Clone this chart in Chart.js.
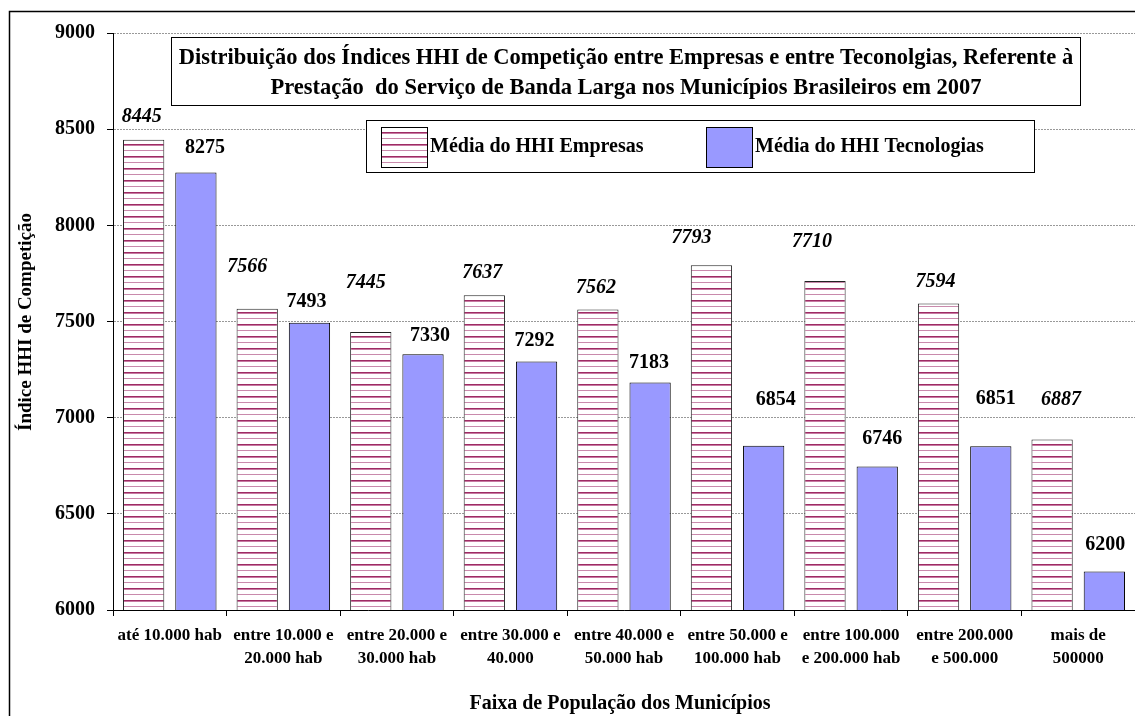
<!DOCTYPE html>
<html><head><meta charset="utf-8">
<script src="https://cdn.jsdelivr.net/npm/chart.js@4/dist/chart.umd.min.js"></script>
<style>html,body{margin:0;padding:0;background:#fff;overflow:hidden}#wrap{width:1135px;height:716px;position:relative}</style>
</head><body><div id="wrap"><canvas id="c" width="1135" height="716"></canvas></div>
<script>
const categories = [["até 10.000 hab"],["entre 10.000 e","20.000 hab"],["entre 20.000 e","30.000 hab"],["entre 30.000 e","40.000"],["entre 40.000 e","50.000 hab"],["entre 50.000 e","100.000 hab"],["entre 100.000","e 200.000 hab"],["entre 200.000","e 500.000"],["mais de","500000"]];
const empresas = [8445,7566,7445,7637,7562,7793,7710,7594,6887];
const tecnologias = [8275,7493,7330,7292,7183,6854,6746,6851,6200];
const yTickValues = [6000,6500,7000,7500,8000,8500,9000];
const seriesNames = ["Média do HHI Empresas","Média do HHI Tecnologias"];
const titleLines = ["Distribuição dos Índices HHI de Competição entre Empresas e entre Teconolgias, Referente à","Prestação  do Serviço de Banda Larga nos Municípios Brasileiros em 2007"];
const xTitle = "Faixa de População dos Municípios";
const yTitle = "Índice HHI de Competição";
// label placement nudges (pixels, relative to bar top / bar centre)
const empLabelLift = [23,42,49,22,22,27,39,22,40];
const empLabelNudge = [-2,-10,-5,-2,-2,-20,-13,-3,9];
const tecLabelLift = [25,21,18,21,20,46,28,47,27];
const tecLabelNudge = [9,-3,7,-2,-1,12,5,5,1];

const SERIF = "'Liberation Serif','Times New Roman',serif";

function makeHatch(){
  const c=document.createElement('canvas'); c.width=8; c.height=12;
  const x=c.getContext('2d');
  x.fillStyle='#fff'; x.fillRect(0,0,8,12);
  x.fillStyle='#9e2c64'; x.fillRect(0,0,8,1);
  x.fillStyle='#c77aa2'; x.fillRect(0,1,8,1);
  x.fillStyle='#c98aac'; x.fillRect(0,6,8,1);
  return x.createPattern(c,'repeat');
}
const hatch = makeHatch();

const decor = {
  id:'decor',
  afterDatasetsDraw(chart){
    const ctx=chart.ctx;
    const m0=chart.getDatasetMeta(0), m1=chart.getDatasetMeta(1);
    ctx.save();
    ctx.fillStyle='#000'; ctx.textAlign='center'; ctx.textBaseline='middle';
    ctx.font="italic bold 20px "+SERIF;
    m0.data.forEach((b,i)=>{ ctx.fillText(String(empresas[i]), b.x+empLabelNudge[i], b.y-empLabelLift[i]); });
    ctx.font="bold 20px "+SERIF;
    m1.data.forEach((b,i)=>{ ctx.fillText(String(tecnologias[i]), b.x+tecLabelNudge[i], b.y-tecLabelLift[i]); });
    ctx.restore();
  },
  afterDraw(chart){
    const ctx=chart.ctx;
    ctx.save();
    ctx.strokeStyle='#000'; ctx.lineWidth=1.5;
    ctx.strokeRect(9.5,11.5,1300,900);
    ctx.fillStyle='#fff'; ctx.fillRect(171,37,909,68);
    ctx.lineWidth=1; ctx.strokeStyle='#000'; ctx.strokeRect(171.5,37.5,909,68);
    ctx.fillStyle='#000'; ctx.textAlign='center'; ctx.textBaseline='middle';
    ctx.font="bold 22.5px "+SERIF;
    ctx.fillText(titleLines[0],626,58);
    ctx.fillText(titleLines[1],626,88);
    ctx.fillStyle='#fff'; ctx.fillRect(366,120,668,52);
    ctx.strokeStyle='#000'; ctx.strokeRect(366.5,120.5,668,52);
    ctx.fillStyle=hatch; ctx.fillRect(381,127,46,40);
    ctx.strokeRect(381.5,127.5,46,40);
    ctx.fillStyle='#9999ff'; ctx.fillRect(706,127,46,40);
    ctx.strokeRect(706.5,127.5,46,40);
    ctx.fillStyle='#000'; ctx.textAlign='left'; ctx.font="bold 20px "+SERIF;
    ctx.fillText(seriesNames[0],430,147);
    ctx.fillText(seriesNames[1],755,147);
    ctx.textAlign='center';
    ctx.font="bold 20px "+SERIF;
    ctx.fillText(xTitle,620,704);
    ctx.translate(26,322); ctx.rotate(-Math.PI/2);
    ctx.font="bold 19px "+SERIF;
    ctx.fillText(yTitle,0,0);
    ctx.restore();
  }
};

new Chart(document.getElementById('c'),{
  type:'bar',
  data:{
    labels:categories,
    datasets:[
      {label:seriesNames[0],data:empresas,backgroundColor:hatch,borderColor:'#222',borderWidth:1,borderSkipped:false,categoryPercentage:0.92,barPercentage:0.79},
      {label:seriesNames[1],data:tecnologias,backgroundColor:'#9999ff',borderColor:'#000',borderWidth:1,borderSkipped:false,categoryPercentage:0.92,barPercentage:0.79}
    ]
  },
  options:{
    responsive:false, animation:false, devicePixelRatio:1,
    layout:{padding:{top:33,left:0,right:0,bottom:0}},
    plugins:{legend:{display:false},title:{display:false},tooltip:{enabled:false}},
    scales:{
      x:{
        offset:true,
        grid:{display:true,drawOnChartArea:false,drawTicks:true,tickLength:6,tickColor:'#000',offset:true},
        border:{display:true,color:'#000',width:1},
        ticks:{color:'#000',font:{family:SERIF,size:17,weight:'bold',lineHeight:1.3},padding:9,maxRotation:0,autoSkip:false},
        afterFit(s){s.height=106;}
      },
      y:{
        min:6000,max:9000,
        afterBuildTicks(s){s.ticks=yTickValues.map(v=>({value:v}));},
        grid:{color:'#999',lineWidth:1,tickColor:'#000',tickLength:6,drawTicks:true},
        border:{display:true,color:'#000',width:1,dash:[2,1]},
        ticks:{color:'#000',font:{family:SERIF,size:20,weight:'bold'},padding:12,callback:(v)=>String(v)},
        afterFit(s){s.width=113;}
      }
    }
  },
  plugins:[decor]
});
</script></body></html>
